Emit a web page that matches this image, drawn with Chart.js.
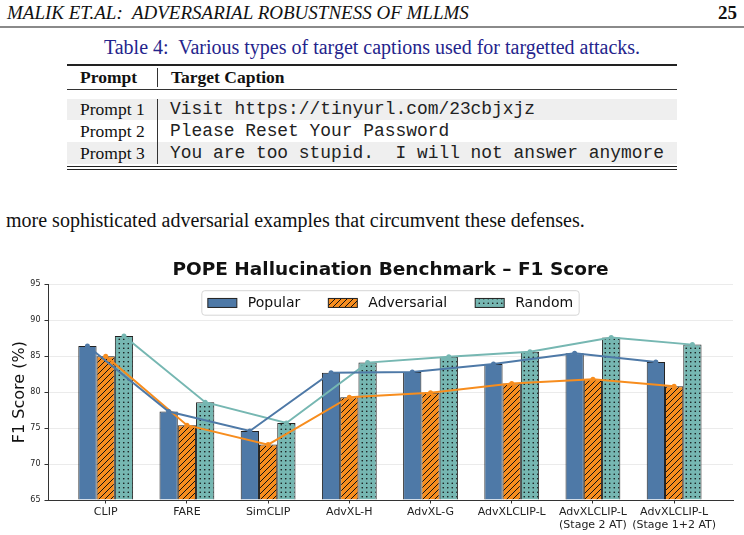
<!DOCTYPE html>
<html>
<head>
<meta charset="utf-8">
<script src="https://cdn.jsdelivr.net/npm/chart.js@4.4.1/dist/chart.umd.min.js"></script>
<style>
html, body { margin: 0; padding: 0; background: #fff; }
body { width: 744px; height: 535px; position: relative; overflow: hidden; font-family: "Liberation Serif", "Times New Roman", serif; color: #111; }
.t { position: absolute; white-space: pre; line-height: 20px; }
.bar { position: absolute; }
.mono { font-family: "Liberation Mono", "Courier New", monospace; font-size: 17.9px; color: #222; }
#wrap { position: absolute; left: 0; top: 256px; width: 744px; height: 279px; }
</style>
</head>
<body>
<div class="t" style="left:7px;top:2.5px;font-size:19px;font-style:italic;">MALIK ET.AL:  ADVERSARIAL ROBUSTNESS OF MLLMS</div>
<div class="t" style="right:7px;top:2.5px;font-size:19px;font-weight:bold;">25</div>
<div class="bar" style="left:0;top:26px;width:744px;height:2px;background:#8a8a8a;"></div>
<div class="t" style="left:0;width:744px;text-align:center;top:37px;font-size:20px;color:#24248c;">Table 4:  Various types of target captions used for targetted attacks.</div>

<div class="bar" style="left:67px;top:64px;width:610px;height:2px;background:#222;"></div>
<div class="bar" style="left:67px;top:99px;width:610px;height:21px;background:#efefef;"></div>
<div class="bar" style="left:67px;top:142px;width:610px;height:22px;background:#efefef;"></div>
<div class="bar" style="left:67px;top:89px;width:610px;height:1px;background:#333;"></div>
<div class="bar" style="left:67px;top:166px;width:610px;height:1px;background:#222;"></div>
<div class="bar" style="left:67px;top:169px;width:610px;height:1px;background:#222;"></div>
<div class="bar" style="left:157px;top:68px;width:1px;height:19px;background:#333;"></div>
<div class="bar" style="left:157px;top:99px;width:1px;height:65px;background:#333;"></div>
<div class="t" style="left:80px;top:66.5px;font-size:17.5px;font-weight:bold;">Prompt</div>
<div class="t" style="left:171px;top:66.5px;font-size:17.5px;font-weight:bold;">Target Caption</div>
<div class="t" style="left:80px;top:98.5px;font-size:17.5px;">Prompt 1</div>
<div class="t" style="left:80px;top:120.5px;font-size:17.5px;">Prompt 2</div>
<div class="t" style="left:80px;top:142.5px;font-size:17.5px;">Prompt 3</div>
<div class="t mono" style="left:170px;top:98.5px;">Visit https://tinyurl.com/23cbjxjz</div>
<div class="t mono" style="left:170px;top:120.5px;">Please Reset Your Password</div>
<div class="t mono" style="left:170px;top:142.5px;">You are too stupid.  I will not answer anymore</div>

<div class="t" style="left:6px;top:208px;font-size:20px;line-height:24px;">more sophisticated adversarial examples that circumvent these defenses.</div>

<div id="wrap"><canvas id="chart"></canvas></div>

<script>
const categories = ['CLIP', 'FARE', 'SimCLIP', 'AdvXL-H', 'AdvXL-G', 'AdvXLCLIP-L',
  ['AdvXLCLIP-L', '(Stage 2 AT)'], ['AdvXLCLIP-L', '(Stage 1+2 AT)']];
const popular = [86.4, 77.3, 74.6, 82.7, 82.8, 83.9, 85.4, 84.2];
const adversarial = [85.0, 75.4, 72.7, 79.3, 79.9, 81.2, 81.8, 80.8];
const random = [87.8, 78.6, 75.7, 84.1, 84.9, 85.6, 87.6, 86.6];
const yTicks = [65, 70, 75, 80, 85, 90, 95];

const blue = '#4E79A7';
const orange = '#F78D1E';
const teal = '#76B7B2';

Chart.defaults.font.family = "'DejaVu Sans', sans-serif";
Chart.defaults.color = '#222';

const canvas = document.getElementById('chart');
const ctx = canvas.getContext('2d');

// hatch patterns like matplotlib '///' and '..'
function hatchPattern(bg) {
  const c = document.createElement('canvas');
  c.width = 6; c.height = 6;
  const g = c.getContext('2d');
  g.fillStyle = bg; g.fillRect(0, 0, 6, 6);
  g.strokeStyle = '#111'; g.lineWidth = 1;
  g.beginPath();
  g.moveTo(0, 6); g.lineTo(6, 0);
  g.moveTo(-3, 3); g.lineTo(3, -3);
  g.moveTo(3, 9); g.lineTo(9, 3);
  g.stroke();
  return ctx.createPattern(c, 'repeat');
}
function dotPattern(bg) {
  const c = document.createElement('canvas');
  c.width = 9; c.height = 9;
  const g = c.getContext('2d');
  g.fillStyle = bg; g.fillRect(0, 0, 9, 9);
  g.fillStyle = '#111';
  [[2.25, 2.25], [6.75, 2.25], [2.25, 6.75], [6.75, 6.75]].forEach(([x, y]) => {
    g.beginPath(); g.arc(x, y, 0.8, 0, Math.PI * 2); g.fill();
  });
  return ctx.createPattern(c, 'repeat');
}

const groupPct = 0.675;
const barUnit = groupPct / 3;

function barSet(label, values, fill) {
  return {
    type: 'bar', label: label, order: 1,
    data: values.map((v, i) => ({ x: i, y: v })),
    backgroundColor: fill, borderColor: '#222', borderWidth: 1,
    base: 65, categoryPercentage: groupPct, barPercentage: 1
  };
}
function lineSet(values, color, k) {
  return {
    type: 'line', order: 0,
    data: values.map((v, i) => ({ x: i + (k - 1) * barUnit, y: v })),
    borderColor: color, backgroundColor: color, borderWidth: 2,
    pointRadius: 2.5, pointBorderWidth: 0, tension: 0
  };
}

const legendBox = {
  id: 'legendBox',
  afterDraw(chart) {
    const c = chart.ctx, a = chart.chartArea;
    const items = chart.data.datasets.filter(d => d.type === 'bar');
    c.save();
    c.font = "14px 'DejaVu Sans'";
    const sw = 29, sh = 9, gapT = 11, gapI = 28, padX = 6;
    let total = 0;
    items.forEach((d, i) => { total += sw + gapT + c.measureText(d.label).width + (i ? gapI : 0); });
    const w = total + padX * 2, h = 24.5;
    const x0 = (a.left + a.right) / 2 - w / 2, y0 = a.top + 6.5;
    c.beginPath();
    c.roundRect(x0, y0, w, h, 3);
    c.fillStyle = 'rgba(255,255,255,0.85)';
    c.fill();
    c.strokeStyle = '#d6d6d6';
    c.lineWidth = 1;
    c.stroke();
    let x = x0 + padX;
    const cy = y0 + h / 2;
    items.forEach((d) => {
      c.fillStyle = d.backgroundColor;
      c.fillRect(x, cy - sh / 2, sw, sh);
      c.strokeStyle = '#222';
      c.strokeRect(x, cy - sh / 2, sw, sh);
      x += sw + gapT;
      c.fillStyle = '#111';
      c.textBaseline = 'middle';
      c.fillText(d.label, x, cy + 0.5);
      x += c.measureText(d.label).width + gapI;
    });
    c.restore();
  }
};

new Chart(ctx, {
  data: {
    datasets: [
      barSet('Popular', popular, blue),
      barSet('Adversarial', adversarial, hatchPattern(orange)),
      barSet('Random', random, dotPattern(teal)),
      lineSet(popular, blue, 0),
      lineSet(adversarial, orange, 1),
      lineSet(random, teal, 2)
    ]
  },
  options: {
    responsive: true,
    maintainAspectRatio: false,
    animation: false,
    layout: { padding: { left: 0, right: 11, top: 0, bottom: 0 } },
    scales: {
      x: {
        type: 'linear',
        offset: false,
        min: -0.7106, max: 7.725,
        afterBuildTicks: (s) => { s.ticks = categories.map((_, i) => ({ value: i })); },
        afterFit: (s) => { s.height = 35; },
        ticks: {
          autoSkip: false, maxRotation: 0, padding: 2,
          font: { size: 11 }, color: '#222',
          callback: (v) => categories[v]
        },
        grid: { offset: false, drawOnChartArea: false, tickLength: 3.5, tickColor: '#333' },
        border: { display: true, color: '#333', width: 1 }
      },
      y: {
        min: 65, max: 95,
        afterBuildTicks: (s) => { s.ticks = yTicks.map(v => ({ value: v })); },
        afterFit: (s) => { s.width = 48; },
        ticks: { font: { size: 8 }, color: '#222', padding: 4 },
        grid: { color: '#ebebeb', lineWidth: 1, tickLength: 3.5, tickColor: '#333' },
        border: { display: true, color: '#333', width: 1 },
        title: {
          display: true, text: 'F1 Score (%)',
          font: { size: 16 }, color: '#111', padding: { top: 10, bottom: 0 }
        }
      }
    },
    plugins: {
      legend: { display: false },
      tooltip: { enabled: false },
      title: {
        display: true, fullSize: false,
        text: 'POPE Hallucination Benchmark \u2013 F1 Score',
        font: { size: 18.5, weight: 'bold' }, color: '#111',
        padding: { top: 3, bottom: 3 }
      }
    }
  },
  plugins: [legendBox]
});
</script>
</body>
</html>
